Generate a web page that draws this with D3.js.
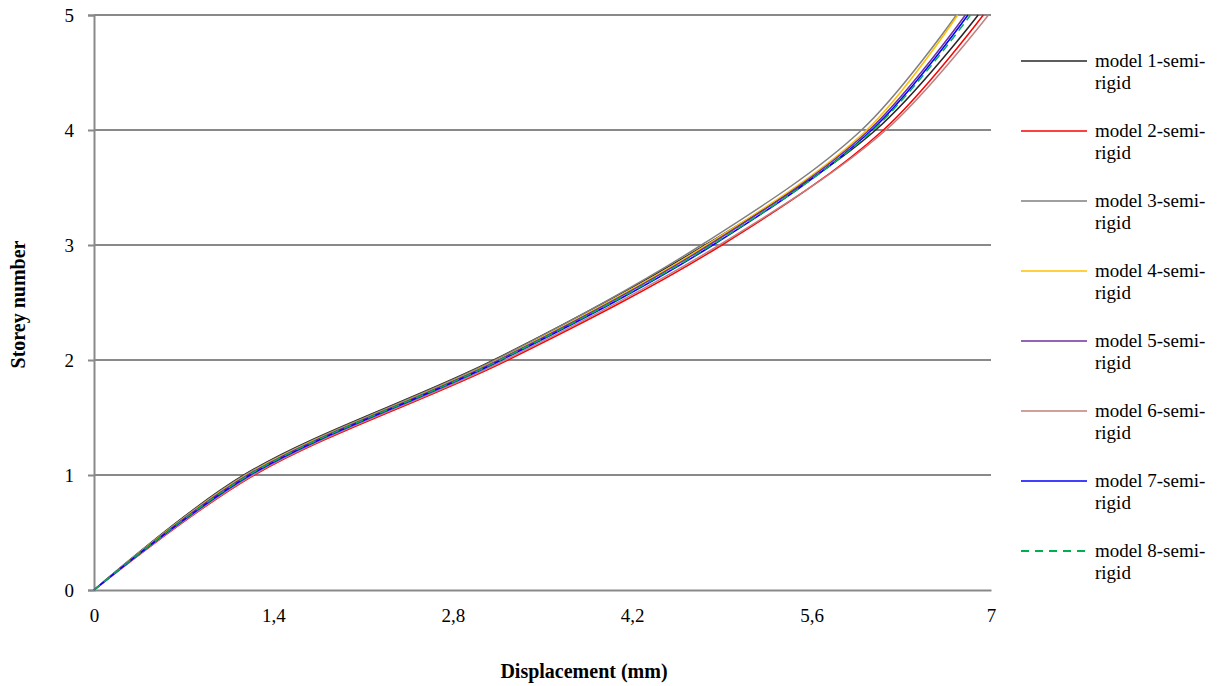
<!DOCTYPE html>
<html>
<head>
<meta charset="utf-8">
<script src="https://cdn.jsdelivr.net/npm/d3@7"></script>
<style>
  html, body { margin: 0; padding: 0; background: #fff; }
  svg { display: block; font-family: "Liberation Serif", "Times New Roman", serif; }
</style>
</head>
<body>
<svg id="chart" width="1222" height="686"></svg>
<script>
// Storey levels (y) shared by every model
const storeys = [0, 1, 2, 3, 4, 5];

// Lateral displacement (mm) at each storey, per model
const model1 = [0, 1.17, 3.12, 4.77, 6.10, 6.90];
const model2 = [0, 1.25, 3.23, 4.90, 6.16, 6.94];
const model3 = [0, 1.18, 3.13, 4.74, 5.99, 6.73];
const model4 = [0, 1.19, 3.15, 4.78, 6.03, 6.74];
const model5 = [0, 1.20, 3.16, 4.80, 6.05, 6.80];
const model6 = [0, 1.24, 3.21, 4.88, 6.18, 6.98];
const model7 = [0, 1.22, 3.18, 4.83, 6.07, 6.82];
const model8 = [0, 1.21, 3.17, 4.82, 6.08, 6.84];

const seriesNames = [
  "model 1-semi-rigid", "model 2-semi-rigid", "model 3-semi-rigid", "model 4-semi-rigid",
  "model 5-semi-rigid", "model 6-semi-rigid", "model 7-semi-rigid", "model 8-semi-rigid"
];
const seriesValues = [model1, model2, model3, model4, model5, model6, model7, model8];
const seriesColors = ["#262626", "#ff0000", "#7f7f7f", "#ffc000", "#7030a0", "#c0807f", "#0000ff", "#00b050"];

const xTicks = [0, 1.4, 2.8, 4.2, 5.6, 7];
const yTicks = [0, 1, 2, 3, 4, 5];

const svg = d3.select("#chart");
const plot = { left: 94, right: 991, top: 15, bottom: 590 };

const x = d3.scaleLinear().domain([0, 7]).range([plot.left, plot.right]);
const y = d3.scaleLinear().domain([0, 5]).range([plot.bottom, plot.top]);

const gridColor = "#898989";
const labelSize = 19;
const titleSize = 20;

// Horizontal gridlines
svg.append("g")
  .selectAll("line")
  .data(yTicks.filter(d => d > 0))
  .join("line")
  .attr("x1", plot.left).attr("x2", plot.right)
  .attr("y1", d => y(d)).attr("y2", d => y(d))
  .attr("stroke", gridColor).attr("stroke-width", 2);

// Left axis
const yAxis = svg.append("g")
  .attr("transform", `translate(${plot.left},0)`)
  .call(d3.axisLeft(y).tickValues(yTicks).tickSize(6).tickPadding(14).tickFormat(d3.format("d")));
yAxis.select(".domain").attr("stroke", gridColor).attr("stroke-width", 2);
yAxis.selectAll(".tick line").attr("stroke", gridColor).attr("stroke-width", 2);
yAxis.selectAll(".tick text")
  .attr("font-family", "Liberation Serif, serif").attr("font-size", labelSize).attr("fill", "#000");

// Bottom axis
const fmtComma = d => d3.format("~g")(d).replace(".", ",");
const xAxis = svg.append("g")
  .attr("transform", `translate(0,${plot.bottom})`)
  .call(d3.axisBottom(x).tickValues(xTicks).tickSize(0).tickPadding(19).tickFormat(fmtComma));
xAxis.select(".domain").attr("stroke", gridColor).attr("stroke-width", 2);
xAxis.selectAll(".tick text")
  .attr("font-family", "Liberation Serif, serif").attr("font-size", labelSize).attr("fill", "#000");

// Axis titles
svg.append("text")
  .attr("x", 584).attr("y", 678)
  .attr("text-anchor", "middle")
  .attr("font-size", titleSize).attr("font-weight", "bold")
  .text("Displacement (mm)");

svg.append("text")
  .attr("transform", `translate(25,${(plot.top + plot.bottom) / 2 + 2}) rotate(-90)`)
  .attr("text-anchor", "middle")
  .attr("font-size", titleSize).attr("font-weight", "bold")
  .text("Storey number");

// Smoothed drift curves
const line = d3.line()
  .x(d => x(d[0]))
  .y(d => y(d[1]))
  .curve(d3.curveCatmullRom.alpha(0.5));

const curves = svg.append("g");
seriesValues.forEach((vals, i) => {
  const pts = vals.map((v, k) => [v, storeys[k]]);
  curves.append("path")
    .attr("d", line(pts))
    .attr("fill", "none")
    .attr("stroke", seriesColors[i])
    .attr("stroke-width", 1.5)
    .attr("stroke-dasharray", i === 7 ? "8,5" : null);
});

// Legend
const legend = svg.append("g");
seriesNames.forEach((name, i) => {
  const cy = 61 + i * 70;
  legend.append("line")
    .attr("x1", 1021).attr("x2", 1087)
    .attr("y1", cy).attr("y2", cy)
    .attr("stroke", seriesColors[i])
    .attr("stroke-width", i === 7 ? 2 : 1.5)
    .attr("stroke-dasharray", i === 7 ? "8,6" : null);
  const parts = name.split("-");
  const t = legend.append("text")
    .attr("x", 1095).attr("y", cy + 6)
    .attr("font-size", labelSize).attr("fill", "#000");
  t.append("tspan").attr("x", 1095).text(parts[0] + "-" + parts[1] + "-");
  t.append("tspan").attr("x", 1095).attr("dy", 22).text(parts[2]);
});
</script>
</body>
</html>
